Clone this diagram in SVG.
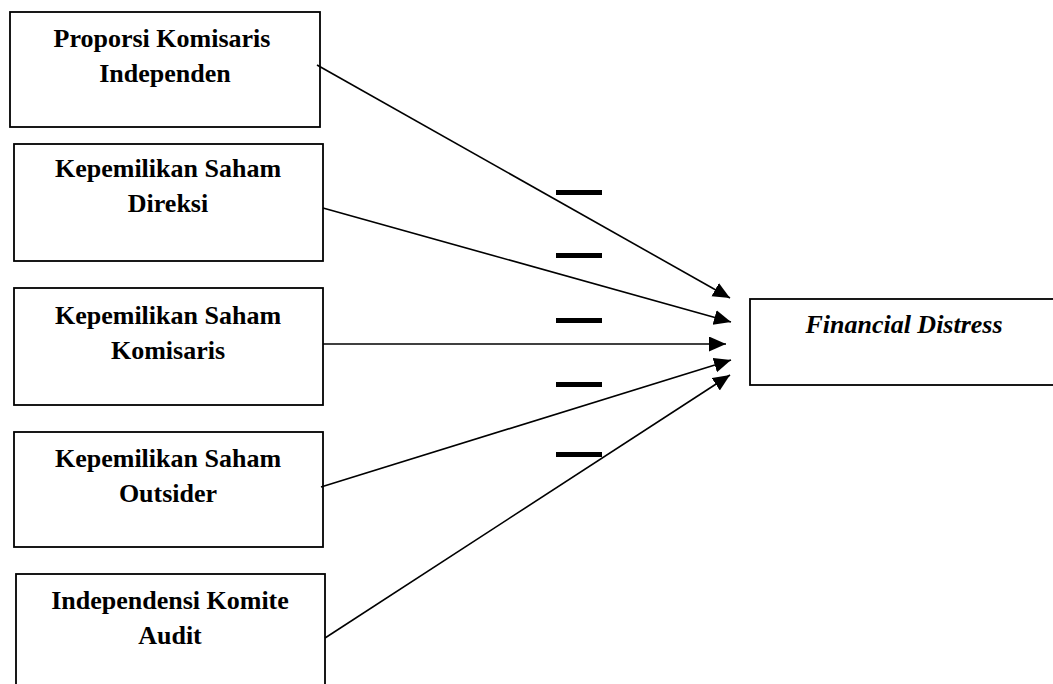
<svg xmlns="http://www.w3.org/2000/svg" width="1053" height="684" viewBox="0 0 1053 684">
<style>
.box{fill:#fff;stroke:#000;stroke-width:1.8}
.t{font-family:"Liberation Serif","Times New Roman",serif;font-weight:bold;font-size:26px;fill:#000;text-anchor:middle}
.ti{font-style:italic}
.ln{stroke:#000;stroke-width:1.6;fill:none;marker-end:url(#ah)}
.dash{fill:#000}
</style>
<defs>
<marker id="ah" markerUnits="userSpaceOnUse" markerWidth="18" markerHeight="16" refX="17" refY="7.5" orient="auto">
<path d="M0,0 L17,7.5 L0,15 z" fill="#000"/>
</marker>
</defs>
<rect width="1053" height="684" fill="#fff"/>
<g id="n1"><rect class="box" x="10" y="12" width="310" height="115"/><text class="t" x="162" y="47">Proporsi Komisaris</text><text class="t" x="165" y="82">Independen</text></g>
<g id="n2"><rect class="box" x="14" y="144" width="309" height="117"/><text class="t" x="168" y="177">Kepemilikan Saham</text><text class="t" x="168" y="212">Direksi</text></g>
<g id="n3"><rect class="box" x="14" y="288" width="309" height="117"/><text class="t" x="168" y="324">Kepemilikan Saham</text><text class="t" x="168" y="359">Komisaris</text></g>
<g id="n4"><rect class="box" x="14" y="432" width="309" height="115"/><text class="t" x="168" y="467">Kepemilikan Saham</text><text class="t" x="168" y="502">Outsider</text></g>
<g id="n5"><rect class="box" x="16" y="574" width="309" height="120"/><text class="t" x="170" y="609">Independensi Komite</text><text class="t" x="170" y="644">Audit</text></g>
<g id="fd"><rect class="box" x="750" y="299" width="305" height="86"/><text class="t ti" x="904" y="333">Financial Distress</text></g>
<g id="connectors">
<line class="ln" x1="317" y1="65" x2="730" y2="298"/>
<line class="ln" x1="323" y1="208" x2="731" y2="322"/>
<line class="ln" x1="323" y1="344" x2="726" y2="344"/>
<line class="ln" x1="321" y1="487" x2="731" y2="360"/>
<line class="ln" x1="325" y1="638" x2="730" y2="375"/>
</g>
<g id="signs">
<rect class="dash" x="556" y="190" width="46" height="5"/>
<rect class="dash" x="556" y="253" width="46" height="5"/>
<rect class="dash" x="556" y="318" width="46" height="5"/>
<rect class="dash" x="556" y="382" width="46" height="5"/>
<rect class="dash" x="556" y="452" width="46" height="5"/>
</g>
</svg>
